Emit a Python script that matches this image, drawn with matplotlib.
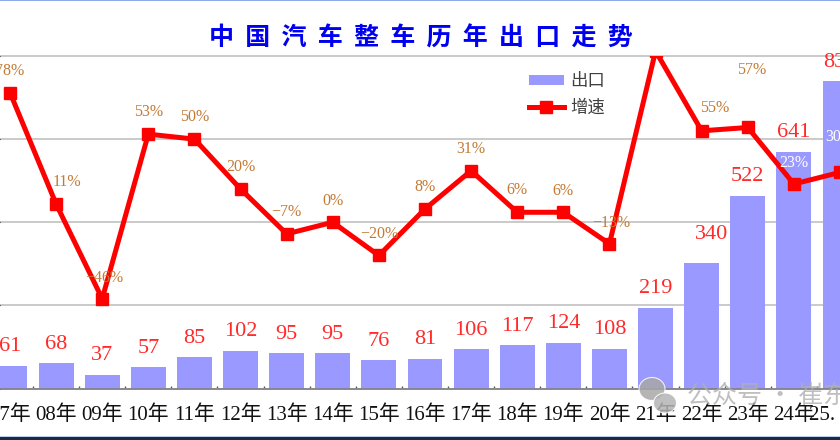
import matplotlib
matplotlib.use("Agg")
import matplotlib.pyplot as plt
from matplotlib.patches import Rectangle, Ellipse
from matplotlib.lines import Line2D
from matplotlib.patches import Patch
import numpy as np

years = ["07年","08年","09年","10年","11年","12年","13年","14年","15年","16年",
         "17年","18年","19年","20年","21年","22年","23年","24年","25. 5月"]
exports = [61,68,37,57,85,102,95,95,76,81,106,117,124,108,219,340,522,641,832]
growth = [78,11,-46,53,50,20,-7,0,-20,8,31,6,6,-13,103,55,57,23,30]
growth_labels = ["78%","11%","-46%","53%","50%","20%","-7%","0%","-20%","8%","31%","6%","6%","-13%",
                 None,"55%","57%","23%","30%"]

# pixel offsets of the growth labels from their points (x, y up)
growth_offsets = {0:(0,22),1:(11,22),2:(2,21),3:(0,22),4:(0,22),5:(0,22),6:(0,22),7:(0,21),8:(0,22),
                  9:(0,22),10:(0,22),11:(0,22),12:(0,21),13:(2,21),15:(13,23),16:(4,57),17:(0,21),18:(0,35)}
export_offsets = {15:(10,28)}

W,H = 840,440
fig = plt.figure(figsize=(8.4,4.4),dpi=100,facecolor="white")
top_px,base_px = 56,388.5
ax = fig.add_axes([0,(H-base_px)/H,1,(base_px-top_px)/H])
x = np.arange(len(years))
step = 46.17
ax.set_xlim(-10/step,(840-10)/step)
ax.set_ylim(0,900)
ax.bar(x,exports,width=35/step,color="#9999FF",zorder=2)
ax.set_yticks([0,225,450,675,900])
ax.tick_params(axis="y",left=False,labelleft=False)
ax.grid(axis="y",color="#C6C6C6",lw=1.3,zorder=0,clip_on=False)
ax.set_axisbelow(True)
for s in ["top","left","right"]:
    ax.spines[s].set_visible(False)
ax.spines["bottom"].set_color("#808080")
ax.spines["bottom"].set_linewidth(1.2)
ax.set_xticks(x)
ax.set_xticklabels(years,fontsize=15,color="#111111",family=["Liberation Serif","Noto Sans CJK SC"])
ax.tick_params(axis="x",which="major",length=0,pad=12.5)
ax.set_xticks(x[:-1]+0.5,minor=True)
ax.tick_params(axis="x",which="minor",direction="in",length=2.5,width=1,color="#555555")

for i,v in enumerate(exports):
    dx,dy = export_offsets.get(i,(0,19))
    ax.annotate(str(v),(i,v),xytext=(dx*0.72,dy*0.72),textcoords="offset points",ha="center",va="center",
                fontsize=16,color="#FF2A2A",family="Liberation Serif",annotation_clip=False)

ax2 = ax.twinx()
ax2.set_ylim(-100,100)
ax2.set_yticks([])
ax2.patch.set_visible(False)
for s in ax2.spines.values():
    s.set_visible(False)
ax2.plot(x,growth,color="#FF0000",lw=3.6,marker="s",ms=8.5,solid_joinstyle="miter")

for i,(g,lab) in enumerate(zip(growth,growth_labels)):
    if lab is None:
        continue
    dx,dy = growth_offsets[i]
    col = "white" if i>=17 else "#C47A35"
    ax2.annotate(lab.replace("-","−"),(i,g),xytext=(dx*0.72,dy*0.72),textcoords="offset points",ha="center",va="center",
                 fontsize=11.5,color=col,family="Liberation Serif",annotation_clip=False)

fig.text(421/W,1-38/H,"  ".join("中国汽车整车历年出口走势"),ha="center",va="center",
         fontsize=18,color="#0000F0",family="Noto Sans CJK SC",fontweight="bold")

handles = [Patch(facecolor="#9999FF",label="出口"),
           Line2D([],[],color="#FF0000",lw=3.6,marker="s",ms=8.5,label="增速")]
leg = fig.legend(handles=handles,loc="upper left",bbox_to_anchor=(529/W,1-72/H),frameon=False,
                 prop={"family":"Noto Sans CJK SC","size":12.5},labelcolor="#404040",
                 handlelength=2.0,handleheight=0.5,labelspacing=0.5,handletextpad=0.35,borderpad=0,borderaxespad=0)

# watermark
def px_ellipse(cx,cy,w,h,color):
    fig.add_artist(Ellipse((cx/W,1-cy/H),w/W,h/H,transform=fig.transFigure,facecolor=color,edgecolor="white",lw=0.8,alpha=0.85))
px_ellipse(652,389,26,23,"#A8A8A8")
px_ellipse(665,403,23,20,"#B4B4B4")
fig.text(687/W,1-396/H,"公众号 · 崔东树",ha="left",va="center",fontsize=18,color="#B0B0B0",alpha=0.8,family="Noto Sans CJK SC")

# screenshot borders
fig.add_artist(Rectangle((0,1-1.5/H),1,1.5/H,transform=fig.transFigure,facecolor="#8DAAE6",edgecolor="none"))
fig.add_artist(Rectangle((0,0),1,3/H,transform=fig.transFigure,facecolor="#1E2A3C",edgecolor="none"))
fig.add_artist(Rectangle((0,3/H),1,1.2/H,transform=fig.transFigure,facecolor="#BBD0F0",edgecolor="none"))

fig.savefig("out.png",dpi=100)
